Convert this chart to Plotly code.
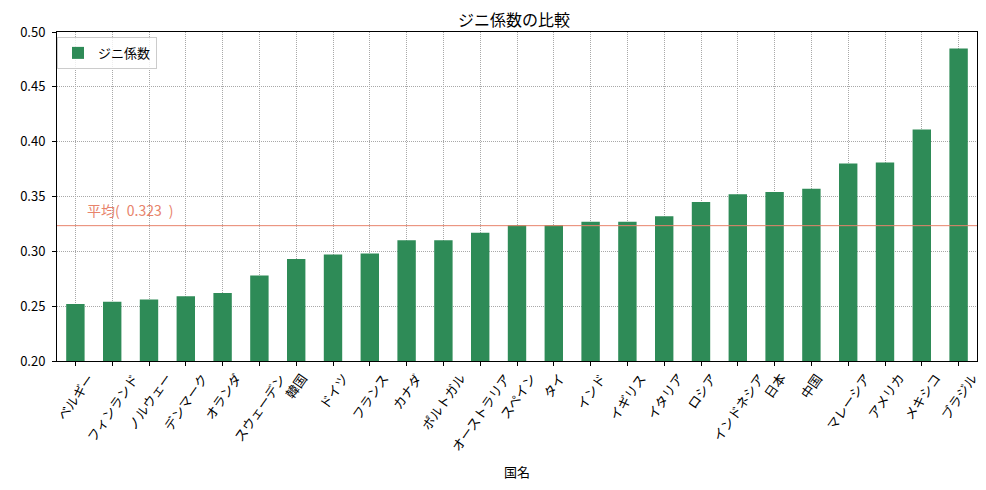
import plotly.graph_objects as go

# Gini coefficients by country (sorted ascending)
countries = [
    'ベルギー', 'フィンランド', 'ノルウェー', 'デンマーク', 'オランダ',
    'スウェーデン', '韓国', 'ドイツ', 'フランス', 'カナダ',
    'ポルトガル', 'オーストラリア', 'スペイン', 'タイ', 'インド',
    'イギリス', 'イタリア', 'ロシア', 'インドネシア', '日本',
    '中国', 'マレーシア', 'アメリカ', 'メキシコ', 'ブラジル'
]
gini = [
    0.252, 0.254, 0.256, 0.259, 0.262,
    0.278, 0.293, 0.297, 0.298, 0.310,
    0.310, 0.317, 0.324, 0.324, 0.327,
    0.327, 0.332, 0.345, 0.352, 0.354,
    0.357, 0.380, 0.381, 0.411, 0.485
]
y_ticks = [0.20, 0.25, 0.30, 0.35, 0.40, 0.45, 0.50]

mean_val = sum(gini) / len(gini)

FONT = 'Noto Sans CJK JP'
BAR_COLOR = '#2e8b57'
MEAN_COLOR = '#e8836b'
GRID_COLOR = '#a8a8a8'

fig = go.Figure()
fig.add_trace(go.Bar(x=countries, y=gini, name='ジニ係数',
                     marker=dict(color=BAR_COLOR, line=dict(width=0)),
                     width=0.5, showlegend=True))

# average line + label
fig.add_hline(y=mean_val, line=dict(color=MEAN_COLOR, width=1))
fig.add_annotation(x=0.25, y=mean_val + 0.003, xref='x', yref='y',
                   text=f'平均(&#8194;{mean_val:.3f}&#8194;)', showarrow=False,
                   xanchor='left', yanchor='bottom',
                   font=dict(family=FONT, size=14, color=MEAN_COLOR))

# rotated category labels, centred under each tick (matplotlib style)
for c in countries:
    fig.add_annotation(x=c, y=0, xref='x', yref='paper', yshift=-6,
                       text=c, showarrow=False, textangle=-55,
                       xanchor='center', yanchor='top',
                       font=dict(family=FONT, size=13, color='black'))

# title and x axis title
fig.add_annotation(x=0.497, y=1, xref='paper', yref='paper', yshift=13,
                   text='ジニ係数の比較', showarrow=False,
                   xanchor='center', yanchor='middle',
                   font=dict(family=FONT, size=16, color='black'))
fig.add_annotation(x=0.5, y=-0.335, xref='paper', yref='paper', text='国名',
                   showarrow=False, xanchor='center', yanchor='middle',
                   font=dict(family=FONT, size=13, color='black'))

# page is drawn with an 8px body margin, so margins are shifted to compensate
fig.update_layout(
    width=986, height=490,
    margin=dict(l=40, r=17, t=24, b=137),
    paper_bgcolor='white', plot_bgcolor='white',
    font=dict(family=FONT, size=13, color='black'),
    legend=dict(x=0.0, y=0.985, xanchor='left', yanchor='top',
                bgcolor='rgba(255,255,255,0.8)', bordercolor='#cccccc', borderwidth=1,
                font=dict(family=FONT, size=13), itemwidth=30,
                tracegroupgap=0),
)
fig.update_xaxes(
    range=[-0.5, len(countries) - 0.5],
    showticklabels=False, ticks='outside', ticklen=4, tickcolor='black',
    showline=True, linecolor='black', linewidth=1, mirror=True,
    showgrid=True, gridcolor=GRID_COLOR, griddash='1px,1px', gridwidth=0.7,
)
fig.update_yaxes(
    range=[0.20, 0.50], tickvals=y_ticks, tickformat='.2f',
    ticks='outside', ticklen=4, tickcolor='black', ticklabelstandoff=4,
    showline=True, linecolor='black', linewidth=1, mirror=True,
    showgrid=True, gridcolor=GRID_COLOR, griddash='1px,1px', gridwidth=0.7,
    zeroline=False, tickfont=dict(family=FONT, size=13),
)

fig.write_html('out.html')
